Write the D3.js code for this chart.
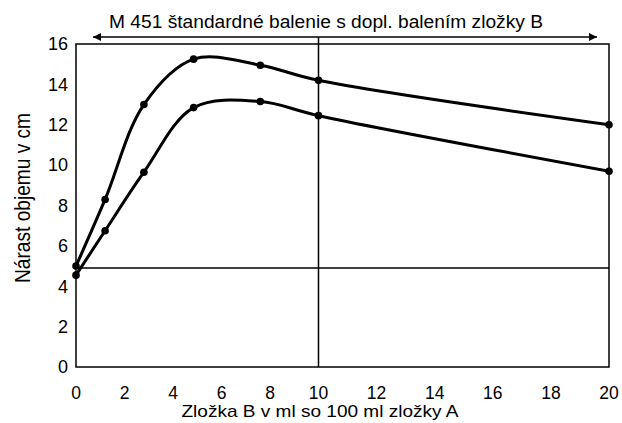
<!DOCTYPE html>
<html><head><meta charset="utf-8">
<script src="https://cdn.jsdelivr.net/npm/d3@7"></script>
<style>body{margin:0;background:#fff}svg{display:block}text{font-family:"Liberation Sans",Arial,sans-serif;fill:#000}</style>
</head><body><svg id="c" width="622" height="423"></svg>
<script>
const xValues = [0, 1.2, 2.8, 4.85, 7.6, 10, 20];
const upperSeries = [5.0, 8.3, 13.0, 15.25, 14.95, 14.2, 12.0];
const lowerSeries = [4.55, 6.75, 9.65, 12.85, 13.15, 12.45, 9.7];
const xTicks = [0, 2, 4, 6, 8, 10, 12, 14, 16, 18, 20];
const yTicks = [0, 2, 4, 6, 8, 10, 12, 14, 16];
const refX = 10, refY = 4.9;
const titleText = "M 451 štandardné balenie s dopl. balením zložky B";
const xLabel = "Zložka B v ml so 100 ml zložky A";
const yLabel = "Nárast objemu v cm";

const svg = d3.select("#c");
const L = 76, R = 609, T = 44, B = 367;
const x = d3.scaleLinear().domain([0, 10, 20]).range([L, 318.5, R]);
const y = d3.scaleLinear().domain([0, 16]).range([B, T]);

const defs = svg.append("defs");
defs.append("marker").attr("id","ah").attr("viewBox","0 0 10 10").attr("refX",10).attr("refY",5)
  .attr("markerWidth",12).attr("markerHeight",8).attr("markerUnits","userSpaceOnUse").attr("orient","auto-start-reverse")
  .append("path").attr("d","M0,0L10,5L0,10Z").attr("fill","#000");

// frame
svg.append("rect").attr("x",L).attr("y",T).attr("width",R-L).attr("height",B-T)
  .attr("fill","none").attr("stroke","#000").attr("stroke-width",1.5);
// reference lines
svg.append("line").attr("x1",L).attr("x2",R).attr("y1",y(refY)).attr("y2",y(refY)).attr("stroke","#000").attr("stroke-width",1.5);
const arrowY = 37;
svg.append("line").attr("x1",x(refX)).attr("x2",x(refX)).attr("y1",arrowY).attr("y2",B).attr("stroke","#000").attr("stroke-width",1.5);
svg.append("line").attr("x1",L+17).attr("x2",R-12).attr("y1",arrowY).attr("y2",arrowY)
  .attr("stroke","#000").attr("stroke-width",1.5).attr("marker-start","url(#ah)").attr("marker-end","url(#ah)");

svg.append("text").attr("x",326).attr("y",27.5).attr("text-anchor","middle").attr("font-size",17.5)
  .attr("textLength",434).attr("lengthAdjust","spacingAndGlyphs").text(titleText);

// ticks
svg.append("g").selectAll("text").data(xTicks).join("text")
  .attr("x",d=>x(d)).attr("y",399).attr("text-anchor","middle").attr("font-size",17.5).text(d=>d);
svg.append("g").selectAll("text").data(yTicks).join("text")
  .attr("x",68).attr("y",d=>y(d)).attr("dy","0.35em").attr("text-anchor","end").attr("font-size",18).text(d=>d);

svg.append("text").attr("x",320).attr("y",417).attr("text-anchor","middle").attr("font-size",17)
  .attr("textLength",277).attr("lengthAdjust","spacingAndGlyphs").text(xLabel);
svg.append("text").attr("transform","translate(30,198) scale(1.15,1) rotate(-90)").attr("text-anchor","middle").attr("font-size",18.5)
  .attr("textLength",170).attr("lengthAdjust","spacingAndGlyphs").text(yLabel);

const line = d3.line().x(d=>x(d[0])).y(d=>y(d[1])).curve(d3.curveCatmullRom.alpha(0.5));
[upperSeries, lowerSeries].forEach(s=>{
  const pts = xValues.map((v,i)=>[v,s[i]]);
  svg.append("path").attr("d",line(pts)).attr("fill","none").attr("stroke","#000").attr("stroke-width",3);
  svg.append("g").selectAll("circle").data(pts).join("circle")
    .attr("cx",d=>x(d[0])).attr("cy",d=>y(d[1])).attr("r",3.8).attr("fill","#000");
});
</script></body></html>
